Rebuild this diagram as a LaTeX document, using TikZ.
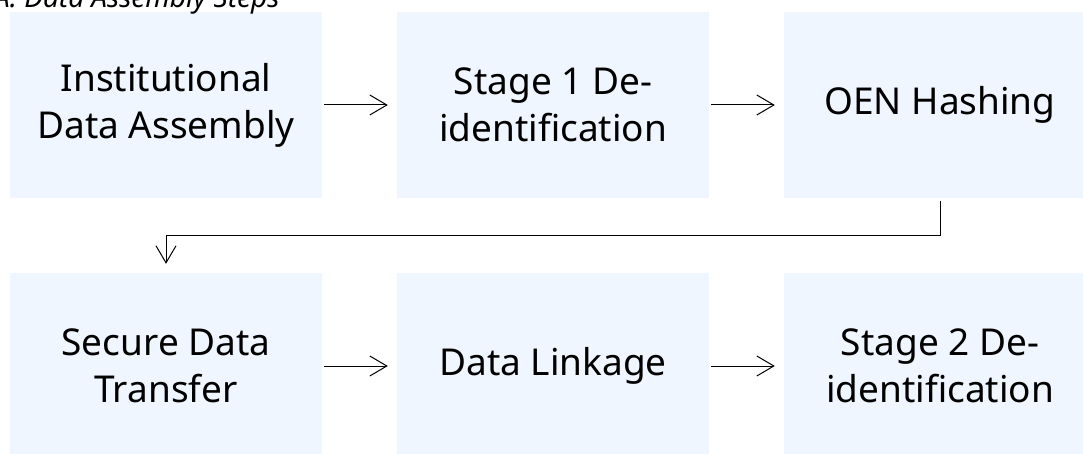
\documentclass[tikz,border=0pt]{standalone}
\usepackage{fontspec}
\setmainfont{Noto Sans}
\usetikzlibrary{arrows.meta,calc}
\definecolor{boxfill}{RGB}{239,246,255}
\tikzset{
  stepbox/.style={rectangle, fill=boxfill, draw=none, minimum width=312pt, minimum height=186pt, inner sep=0pt, align=center, font=\fontsize{37}{47}\selectfont, text=black},
  flow/.style={draw=black, line width=1pt, -{Straight Barb[length=17pt,width=20pt,line width=1pt]}, shorten <=2pt, shorten >=9pt},
}
\begin{document}
\begin{tikzpicture}[x=1pt,y=-1pt]
\useasboundingbox (0,0) rectangle (1083,454);
\begin{scope}
\clip (0,0) rectangle (1083,454);
\node[stepbox] (b1) at (166,105) {Institutional\\Data Assembly};
\node[stepbox] (b2) at (553,105) {Stage 1 De-\\identification};
\node[stepbox] (b3) at (940,105) {OEN Hashing};
\node[stepbox] (b4) at (166,366) {Secure Data\\Transfer};
\node[stepbox] (b5) at (553,366) {Data Linkage};
\node[stepbox] (b6) at (940,366) {Stage 2 De-\\identification};
\node[anchor=base west, inner sep=0pt, font=\fontsize{28}{32}\selectfont\itshape] (title) at (-6,8) {A. Data Assembly Steps};
\end{scope}
\draw[flow] (b1) -- (b2);
\draw[flow] (b2) -- (b3);
\draw[flow] (b4) -- (b5);
\draw[flow] (b5) -- (b6);
\coordinate (mid) at (553,235.5);
\draw[flow, shorten <=3pt] (b3.south) |- (mid) -| (b4.north);
\end{tikzpicture}
\end{document}
